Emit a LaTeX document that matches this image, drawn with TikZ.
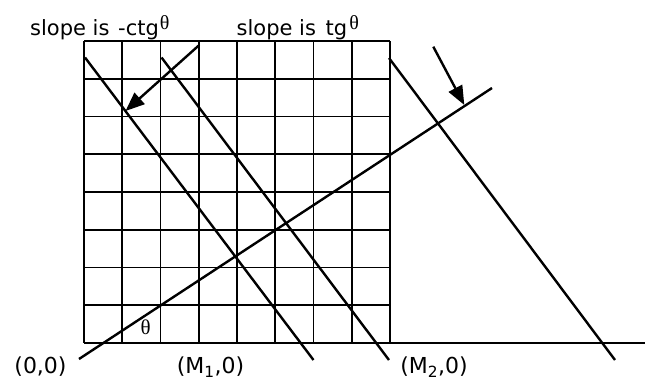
\documentclass[tikz,border=0pt]{standalone}
\usepackage{fontspec}
\setmainfont{DejaVu Sans}
\newfontfamily\thfont{Liberation Serif}
\usetikzlibrary{arrows.meta}
\begin{document}
\begin{tikzpicture}[x=1pt,y=-1pt,
  gridline/.style={line width=1.9pt},
  ln/.style={line width=2.4pt},
  arr/.style={line width=2.4pt,-{Triangle[length=19pt,width=15pt]}},
  lbl/.style={inner sep=0pt,font=\fontsize{21}{24}\selectfont},
  blbl/.style={inner sep=0pt,font=\fontsize{22}{26}\selectfont},
  thlbl/.style={inner sep=0pt,font=\thfont\fontsize{21}{24}\selectfont}]
\useasboundingbox (0,0) rectangle (645,381);
% grid
\foreach \i in {0,...,8}
  \draw[gridline] (84+\i*38.25,41) -- (84+\i*38.25,343);
\foreach \j in {0,...,7}
  \draw[gridline] (84,41+\j*37.75) -- (390,41+\j*37.75);
\coordinate (b0) at (84,343);
\coordinate (b1) at (645,343);
\draw[gridline] (b0) -- (b1);
% rising line
\coordinate (r0) at (79,359);
\coordinate (r1) at (492,88);
\draw[ln] (r0) -- (r1);
% descending lines
\coordinate (d1s) at (85,57.5);
\coordinate (d1e) at (313.5,360);
\coordinate (d2s) at (161.5,57.5);
\coordinate (d2e) at (389,360);
\coordinate (d3s) at (389,58);
\coordinate (d3e) at (615,360);
\draw[ln] (d1s) -- (d1e);
\draw[ln] (d2s) -- (d2e);
\draw[ln] (d3s) -- (d3e);
% arrows
\coordinate (a1s) at (199.3,45);
\coordinate (a1e) at (125.5,111);
\draw[arr] (a1s) -- (a1e);
\coordinate (a2s) at (433.3,46.7);
\coordinate (a2e) at (464.3,105);
\draw[arr] (a2s) -- (a2e);
% labels
\node[lbl,anchor=base west] (s1) at (30,35) {slope is \kern2pt-ctg\kern1pt\raisebox{6pt}{\thfont\fontsize{20}{24}\selectfont θ}};
\node[lbl,anchor=base west] (s2) at (236.5,35) {slope is \kern3pt tg\kern2pt\raisebox{6pt}{\thfont\fontsize{20}{24}\selectfont θ}};
\node[blbl] (o) at (40.5,367) {(0,0)};
\node[blbl] (m1) at (210.5,367) {(M\textsubscript{1},0)};
\node[blbl] (m2) at (434,367) {(M\textsubscript{2},0)};
\node[thlbl] (th) at (145.7,327) {θ};
\end{tikzpicture}
\end{document}
